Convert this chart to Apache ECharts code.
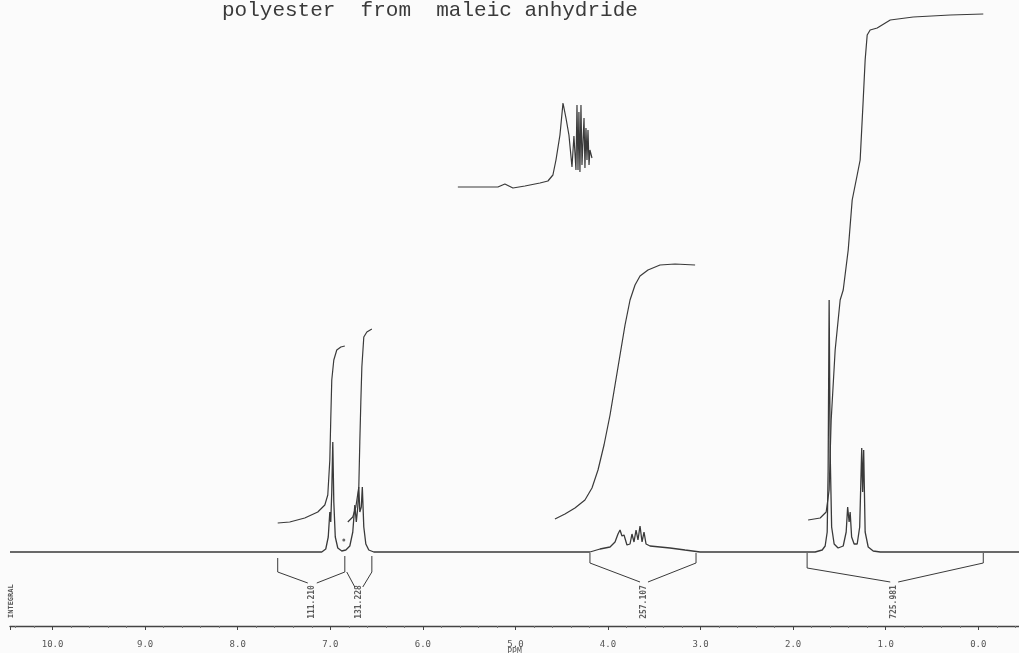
<!DOCTYPE html>
<html>
<head>
<meta charset="utf-8">
<script src="https://cdn.jsdelivr.net/npm/echarts@6/dist/echarts.min.js"></script>
<style>
  html, body { margin: 0; padding: 0; background: #fbfbfb; }
  #main { width: 1019px; height: 653px; }
</style>
</head>
<body>
<div id="main"></div>
<script>
// all x values in ppm, y values in chart-paper units (0 = spectrum baseline)
var titleText = 'polyester  from  maleic anhydride';
var axisMin = -0.44, axisMax = 10.46;

var aromaticPeaks = [
  [7.092, 0], [7.049, 3], [7.022, 15], [7.005, 40], [6.995, 30], [6.984, 60],
  [6.973, 110], [6.962, 50], [6.946, 15], [6.919, 4], [6.876, 1], [6.832, 2],
  [6.789, 6], [6.757, 20], [6.735, 47], [6.719, 30], [6.703, 45], [6.692, 65],
  [6.681, 40], [6.665, 45], [6.654, 65], [6.638, 25], [6.616, 8], [6.584, 2], [6.530, 0]
];
var esterPeaks = [
  [4.195, 0], [4.086, 3], [3.978, 5], [3.924, 10], [3.892, 18], [3.870, 22],
  [3.849, 16], [3.827, 17], [3.795, 7], [3.762, 8], [3.741, 18], [3.719, 10],
  [3.697, 22], [3.676, 12], [3.654, 26], [3.632, 10], [3.611, 20], [3.589, 8],
  [3.546, 6], [3.438, 5], [3.330, 4], [3.168, 2], [3.005, 0]
];
var alkylPeaks = [
  [1.762, 0], [1.686, 2], [1.654, 6], [1.632, 20], [1.622, 80], [1.611, 252],
  [1.600, 100], [1.584, 25], [1.557, 8], [1.514, 4], [1.459, 6], [1.427, 20],
  [1.411, 45], [1.395, 30], [1.384, 40], [1.368, 15], [1.341, 8], [1.308, 8],
  [1.281, 25], [1.259, 104], [1.249, 60], [1.238, 102], [1.222, 20], [1.189, 5],
  [1.135, 1], [1.059, 0]
];
// expanded trace of the 3.5-4.5 region, drawn offset above
var insetTrace = [
  [5.622, 365], [5.384, 365], [5.189, 365], [5.114, 368], [5.027, 364], [4.897, 366],
  [4.735, 369], [4.649, 371], [4.595, 377], [4.562, 392], [4.519, 417], [4.486, 449],
  [4.454, 434], [4.422, 417], [4.389, 385], [4.368, 416], [4.346, 382], [4.335, 447],
  [4.324, 382], [4.314, 440], [4.303, 380], [4.292, 447], [4.281, 387], [4.259, 434],
  [4.249, 384], [4.238, 424], [4.227, 392], [4.216, 422], [4.205, 387], [4.195, 402],
  [4.173, 394]
];

var integral1 = [
  [7.568, 29], [7.438, 30], [7.276, 34], [7.135, 40], [7.059, 47], [7.027, 57],
  [7.005, 92], [6.995, 132], [6.984, 172], [6.973, 182], [6.962, 192], [6.930, 202],
  [6.886, 205], [6.843, 206]
];
var integral2 = [
  [6.811, 30], [6.757, 35], [6.724, 45], [6.692, 65], [6.681, 110], [6.670, 150],
  [6.659, 185], [6.638, 215], [6.605, 220], [6.551, 223]
];
var integral3 = [
  [4.573, 33], [4.465, 38], [4.357, 44], [4.249, 52], [4.173, 64], [4.108, 82],
  [4.043, 107], [3.978, 137], [3.924, 167], [3.870, 197], [3.816, 227], [3.762, 252],
  [3.708, 267], [3.654, 276], [3.568, 282], [3.438, 287], [3.276, 288], [3.059, 287]
];
var integral4 = [
  [1.838, 32], [1.708, 34], [1.643, 40], [1.611, 62], [1.589, 132], [1.546, 202],
  [1.492, 252], [1.459, 262], [1.405, 302], [1.362, 352], [1.308, 377], [1.276, 392],
  [1.243, 452], [1.222, 492], [1.200, 517], [1.168, 522], [1.092, 524], [0.951, 532],
  [0.703, 535], [0.303, 537], [-0.054, 538]
];

var bracket1 = [[7.568, -6], [7.568, -20], [7.243, -31], null, [7.146, -31], [6.843, -20], [6.843, -4]];
var bracket2 = [[6.822, -20], [6.735, -35], null, [6.649, -35], [6.551, -20], [6.551, -4]];
var bracket3 = [[4.195, -1], [4.195, -11], [3.654, -30], null, [3.568, -30], [3.049, -11], [3.049, -1]];
var bracket4 = [[1.849, -1], [1.849, -16], [0.951, -30], null, [0.865, -30], [-0.054, -11], [-0.054, -1]];

var integralNames = ['111.210', '131.228', '257.107', '725.981'];
var integralPos = [[7.200, -50], [6.692, -50], [3.611, -50], [0.908, -50]];

function buildSpectrum() {
  var s = [[axisMax, 0]];
  s = s.concat(aromaticPeaks, esterPeaks, alkylPeaks);
  s.push([axisMin, 0]);
  return s;
}

function lineSeries(data, w) {
  return {
    type: 'line',
    data: data,
    showSymbol: false,
    symbol: 'none',
    connectNulls: false,
    silent: true,
    lineStyle: { color: '#3a3a3a', width: w || 1.2 },
    animation: false
  };
}

function nmrChart() {
  var chart = echarts.init(document.getElementById('main'));

  var labelData = [];
  for (var i = 0; i < integralNames.length; i++) {
    labelData.push({ value: integralPos[i], name: integralNames[i] });
  }

  var option = {
    backgroundColor: '#fbfbfb',
    animation: false,
    grid: { left: 10, right: 0, top: 0, bottom: 27, containLabel: false, outerBoundsMode: 'none' },
    graphic: [
      {
        type: 'text', left: 222, top: 0,
        style: { text: titleText, fill: '#3a3a3a', font: '21px "Liberation Mono"' }
      },
      {
        type: 'text', x: 8, y: 618, rotation: Math.PI / 2,
        style: { text: 'INTEGRAL', fill: '#555', font: 'bold 7px "DejaVu Sans Mono"' }
      }
    ],
    xAxis: {
      type: 'value',
      inverse: true,
      min: axisMin,
      max: axisMax,
      splitNumber: 11,
      name: 'PPM',
      nameLocation: 'middle',
      nameGap: 22,
      nameMoveOverlap: false,
      nameTextStyle: { color: '#555', fontSize: 8, fontFamily: 'DejaVu Sans Mono' },
      axisLine: { onZero: false, lineStyle: { color: '#444', width: 1.4 } },
      axisTick: { length: 4, lineStyle: { color: '#444' } },
      minorTick: { show: true, splitNumber: 5, length: 2, lineStyle: { color: '#777' } },
      splitLine: { show: false },
      axisLabel: {
        color: '#555',
        fontSize: 9,
        fontFamily: 'DejaVu Sans Mono',
        margin: 14,
        showMinLabel: false,
        showMaxLabel: false,
        formatter: function (v) {
          return Math.abs(v - Math.round(v)) < 1e-6 ? v.toFixed(1) : '';
        }
      }
    },
    yAxis: { type: 'value', min: -74, max: 552, show: false },
    series: [
      lineSeries(buildSpectrum(), 1.3),
      lineSeries(insetTrace, 1.2),
      lineSeries(integral1), lineSeries(integral2),
      lineSeries(integral3), lineSeries(integral4),
      lineSeries(bracket1, 1), lineSeries(bracket2, 1),
      lineSeries(bracket3, 1), lineSeries(bracket4, 1),
      {
        type: 'scatter',
        data: [[6.854, 12]],
        symbolSize: 3,
        itemStyle: { color: '#444' },
        silent: true
      },
      {
        type: 'scatter',
        data: labelData,
        symbolSize: 0,
        silent: true,
        label: {
          show: true,
          position: 'inside',
          rotate: 90,
          formatter: '{b}',
          color: '#333',
          fontSize: 8,
          fontWeight: 'bold',
          fontFamily: 'DejaVu Sans Mono'
        }
      }
    ]
  };

  chart.setOption(option);
  window.addEventListener('resize', function () {
    chart.resize();
  });
}

nmrChart();
</script>
</body>
</html>
